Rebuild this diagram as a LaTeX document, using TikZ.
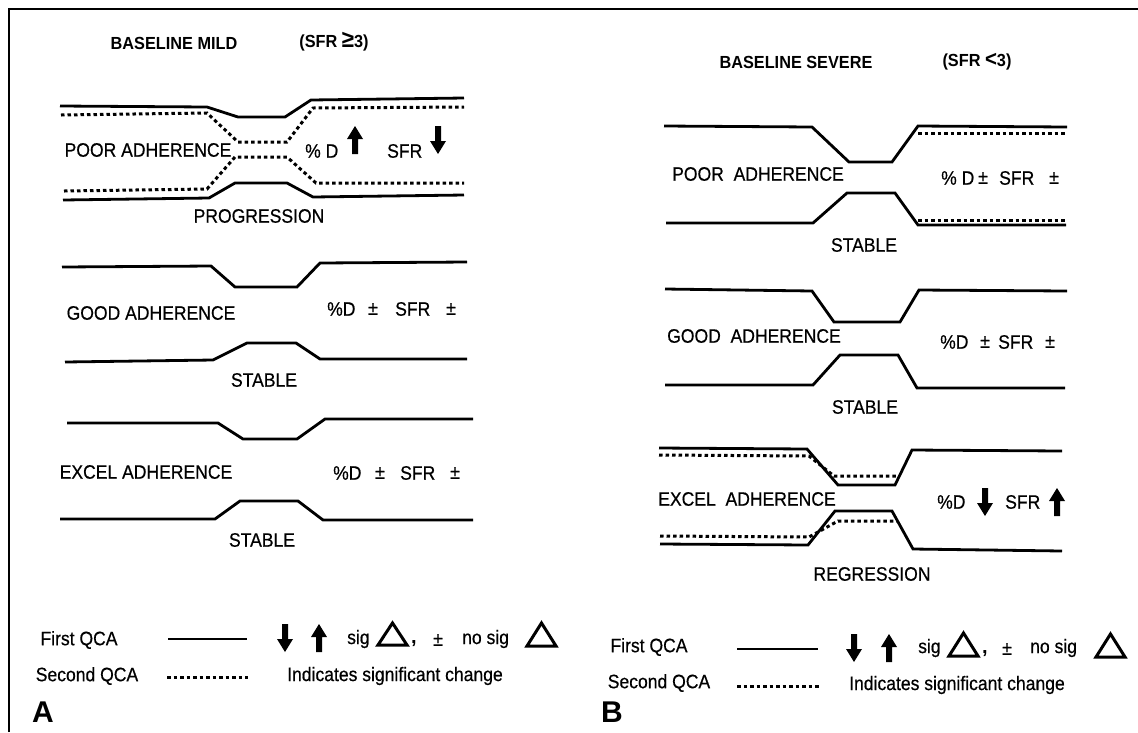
\documentclass[tikz,border=0pt]{standalone}
\usepackage{fontspec}
\setmainfont{Liberation Sans}
\newfontfamily\lblfont[FakeStretch=0.9,FakeBold=0.5]{Liberation Sans}
\newfontfamily\ttlfont[FakeStretch=0.93]{Liberation Sans}
\begin{document}
\begin{tikzpicture}[x=1pt,y=-1pt,
  lbl/.style={inner sep=0pt,font=\lblfont\fontsize{19.5}{22}\selectfont},
  ttl/.style={inner sep=0pt,font=\ttlfont\fontsize{17.5}{20}\selectfont\bfseries},
  big/.style={inner sep=0pt,font=\fontsize{30}{32}\selectfont\bfseries},
  solidline/.style={line width=2.8pt,line join=miter},
  dotline/.style={line width=3pt,dash pattern=on 3.5pt off 3pt},
  tri/.style={line width=3pt,line join=miter},
  frame/.style={line width=2pt},
  uparrow/.pic={\fill (0,-14) -- (8,-1) -- (3,-1) -- (3,14) -- (-3,14) -- (-3,-1) -- (-8,-1) -- cycle;},
  downarrow/.pic={\fill (0,14) -- (8,1) -- (3,1) -- (3,-14) -- (-3,-14) -- (-3,1) -- (-8,1) -- cycle;}
]
\useasboundingbox (0,0) rectangle (1138,732);
\fill[white] (0,0) rectangle (1138,732);
% frame
\draw[frame] (9,732) -- (9,9) -- (1138,9);

% ================= PANEL A =================
\node[ttl] (tA) at (174,43) {BASELINE MILD};
\node[ttl] (sA) at (334,42) {(SFR {\fontsize{24}{24}\selectfont ≥}3)};

% poor adherence
\draw[solidline] (60,106) -- (207,107) -- (238,117) -- (285,117) -- (311,100) -- (464,98);
\draw[dotline] (61,115) -- (207,113) -- (238,142) -- (287,142) -- (313,108) -- (464,107);
\draw[dotline] (64,191) -- (207,189) -- (235,157) -- (287,157) -- (316,183) -- (464,183);
\draw[solidline] (63,200) -- (209,198) -- (235,183) -- (287,183) -- (313,197) -- (464,195);
\node[lbl] (pA) at (148,150) {POOR ADHERENCE};
\node[lbl,anchor=west] (pdA) at (305,151) {\% D};
\pic at (355,140) {uparrow};
\node[lbl,anchor=west] (psA) at (387,151) {SFR};
\pic at (438,140) {downarrow};
\node[lbl] (prA) at (259,216) {PROGRESSION};

% good adherence
\draw[solidline] (62,267) -- (211,266) -- (235,287) -- (297,287) -- (320,263) -- (467,262);
\draw[solidline] (65,362) -- (213,360) -- (247,343) -- (296,343) -- (320,359) -- (467,359);
\node[lbl] (gA) at (151,313) {GOOD ADHERENCE};
\node[lbl,anchor=west] (gdA) at (327,309) {\%D};
\node[lbl] (gpA) at (373,309) {±};
\node[lbl,anchor=west] (gsA) at (395,309) {SFR};
\node[lbl] (gqA) at (451,309) {±};
\node[lbl] (gtA) at (264,380) {STABLE};

% excel adherence
\draw[solidline] (67,423) -- (218,423) -- (243,439) -- (297,439) -- (325,419) -- (473,419);
\draw[solidline] (60,519) -- (215,519) -- (240,501) -- (298,501) -- (323,520) -- (473,520);
\node[lbl] (eA) at (146,472) {EXCEL ADHERENCE};
\node[lbl,anchor=west] (edA) at (333,473) {\%D};
\node[lbl] (epA) at (380,473) {±};
\node[lbl,anchor=west] (esA) at (400,473) {SFR};
\node[lbl] (eqA) at (455,473) {±};
\node[lbl] (etA) at (262,540) {STABLE};

% legend A
\node[lbl] (l1A) at (79,640) {First QCA};
\coordinate (s1A) at (168,639); \coordinate (s2A) at (247,639);
\draw[line width=2.8pt] (s1A) -- (s2A);
\pic at (285,638) {downarrow};
\pic at (319,638) {uparrow};
\node[lbl,anchor=west] (sgA) at (347,639) {sig};
\draw[tri] (378,645) -- (392.5,623) -- (407,645) -- cycle;
\node[lbl,font=\fontsize{20}{22}\selectfont\bfseries] (cmA) at (414,644) {,};
\node[lbl] (pmA) at (438,640) {±};
\node[lbl,anchor=west] (nsA) at (462,639) {no sig};
\draw[tri] (527,646) -- (541.5,623) -- (556,646) -- cycle;
\node[lbl] (l2A) at (87,676) {Second QCA};
\coordinate (d1A) at (167,677); \coordinate (d2A) at (248,677);
\draw[dotline] (d1A) -- (d2A);
\node[lbl] (icA) at (395,676) {Indicates significant change};
\node[big] (A) at (43,712) {A};

% ================= PANEL B =================
\node[ttl] (tB) at (796,62) {BASELINE SEVERE};
\node[ttl] (sB) at (977,62) {(SFR {\fontsize{22}{22}\selectfont<}3)};

% poor adherence
\draw[solidline] (664,126) -- (812,127) -- (849,162) -- (892,162) -- (918,126) -- (1067,127);
\draw[dotline] (918,133) -- (1067,133);
\draw[solidline] (666,223) -- (813,223) -- (847,193) -- (895,193) -- (918,225) -- (1066,225);
\draw[dotline] (918,220) -- (1066,220);
\node[lbl] (pB) at (758,174) {POOR\ \ ADHERENCE};
\node[lbl,anchor=west] (pdB) at (941,178) {\% D};
\node[lbl] (ppB) at (983,178) {±};
\node[lbl,anchor=west] (psB) at (999,178) {SFR};
\node[lbl] (pqB) at (1054,178) {±};
\node[lbl] (ptB) at (864,245) {STABLE};

% good adherence
\draw[solidline] (665,289) -- (812,291) -- (834,322) -- (900,322) -- (919,290) -- (1067,291);
\draw[solidline] (665,385) -- (813,385) -- (840,355) -- (898,355) -- (917,388) -- (1065,388);
\node[lbl] (gB) at (754,336) {GOOD\ \ ADHERENCE};
\node[lbl,anchor=west] (gdB) at (940,342) {\%D};
\node[lbl] (gpB) at (985,342) {±};
\node[lbl,anchor=west] (gsB) at (998,342) {SFR};
\node[lbl] (gqB) at (1050,342) {±};
\node[lbl] (gtB) at (865,407) {STABLE};

% excel adherence
\draw[solidline] (659,448) -- (807,449) -- (838,485) -- (895,485) -- (912,450) -- (1062,451);
\draw[dotline] (659,455) -- (809,456) -- (834,476) -- (898,476);
\draw[solidline] (660,544) -- (808,545) -- (835,511) -- (892,511) -- (913,549) -- (1062,551);
\draw[dotline] (660,536) -- (809,537) -- (838,521) -- (897,521);
\node[lbl] (eB) at (747,499) {EXCEL\ \ ADHERENCE};
\node[lbl,anchor=west] (edB) at (937,502) {\%D};
\pic at (985,502) {downarrow};
\node[lbl,anchor=west] (esB) at (1005,502) {SFR};
\pic at (1057,502) {uparrow};
\node[lbl] (erB) at (872,574) {REGRESSION};

% legend B
\node[lbl] (l1B) at (649,647) {First QCA};
\coordinate (s1B) at (737,649); \coordinate (s2B) at (818,649);
\draw[line width=2.8pt] (s1B) -- (s2B);
\pic at (854,648) {downarrow};
\pic at (889,648) {uparrow};
\node[lbl,anchor=west] (sgB) at (918,648) {sig};
\draw[tri] (949,656) -- (963.5,633) -- (978,656) -- cycle;
\node[lbl,font=\fontsize{20}{22}\selectfont\bfseries] (cmB) at (985,654) {,};
\node[lbl] (pmB) at (1007,649) {±};
\node[lbl,anchor=west] (nsB) at (1030,648) {no sig};
\draw[tri] (1096,657) -- (1110.5,634) -- (1125,657) -- cycle;
\node[lbl] (l2B) at (659,683) {Second QCA};
\coordinate (d1B) at (737,686); \coordinate (d2B) at (820,686);
\draw[dotline] (d1B) -- (d2B);
\node[lbl] (icB) at (957,685) {Indicates significant change};
\node[big] (B) at (612,712) {B};
\end{tikzpicture}
\end{document}
